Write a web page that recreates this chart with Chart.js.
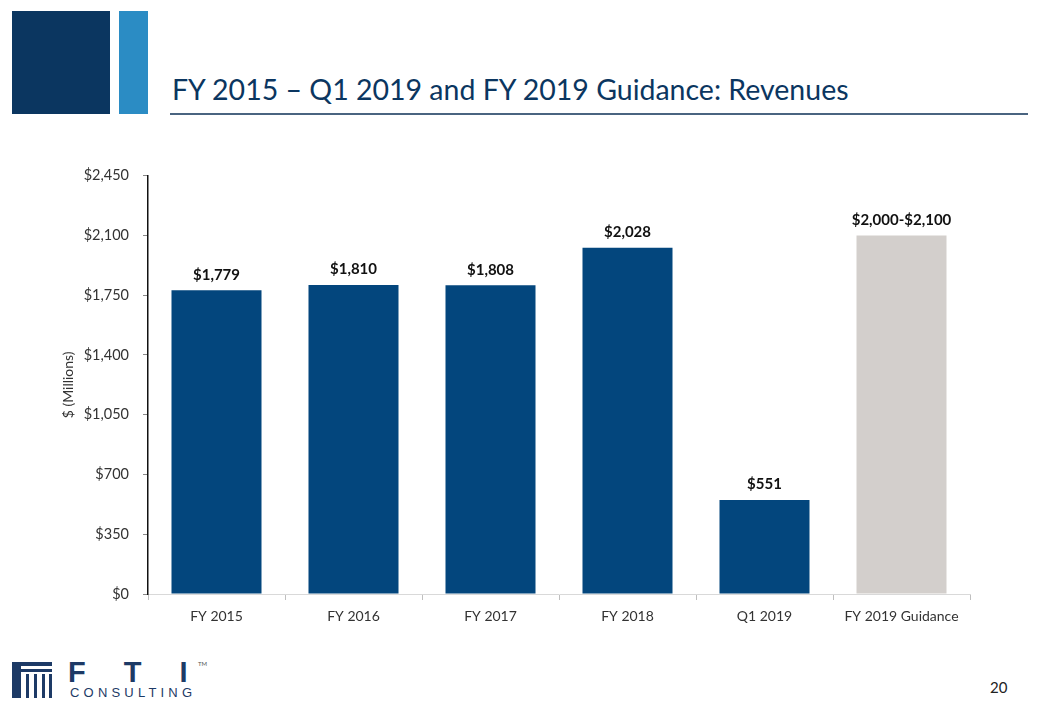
<!DOCTYPE html>
<html>
<head>
<meta charset="utf-8">
<script src="https://cdn.jsdelivr.net/npm/chart.js@4/dist/chart.umd.min.js"></script>
<style>
  body { margin: 0; width: 1040px; height: 720px; background: #fff; position: relative; overflow: hidden; font-family: Lato, "Liberation Sans", sans-serif; }
  .sq1 { position: absolute; left: 12px; top: 11px; width: 98px; height: 103px; background: #0b3660; }
  .sq2 { position: absolute; left: 119px; top: 11px; width: 29px; height: 103px; background: #2b8cc4; }
  .title { position: absolute; left: 172px; top: 72px; font-size: 28.5px; color: #0b3660; white-space: nowrap; }
  .rule { position: absolute; left: 170px; top: 113px; width: 858px; height: 2px; background: #4a6480; }
  #wrap { position: absolute; left: 50px; top: 153px; width: 940px; height: 487px; }
  .page { position: absolute; left: 990px; top: 678px; font-size: 15px; color: #222; }
  .logo .bar { position: absolute; background: #1d3a66; }
  .fti { position: absolute; left: 68px; top: 656px; font-size: 29px; font-weight: 900; color: #1d3a66; letter-spacing: 38px; font-family: "Liberation Sans", sans-serif; }
  .cons { position: absolute; left: 70px; top: 685px; font-size: 13px; color: #1d3a66; letter-spacing: 4.2px; font-family: "Liberation Sans", sans-serif; }
  .tm { position: absolute; left: 198px; top: 660px; font-size: 6px; color: #555; }
</style>
</head>
<body>
<div class="sq1"></div>
<div class="sq2"></div>
<div class="title">FY 2015 – Q1 2019 and FY 2019 Guidance: Revenues</div>
<div class="rule"></div>
<div id="wrap"><canvas id="revChart"></canvas></div>
<div class="logo">
  <div class="bar" style="left:12px;top:662px;width:40px;height:4px"></div>
  <div class="bar" style="left:12px;top:669px;width:40px;height:3px"></div>
  <div class="bar" style="left:12px;top:662px;width:9px;height:36px"></div>
  <div class="bar" style="left:26px;top:674px;width:3px;height:24px"></div>
  <div class="bar" style="left:34px;top:674px;width:3px;height:24px"></div>
  <div class="bar" style="left:42px;top:674px;width:3px;height:24px"></div>
  <div class="bar" style="left:49px;top:674px;width:3px;height:24px"></div>
</div>
<div class="fti">FTI</div>
<div class="cons">CONSULTING</div>
<div class="tm">TM</div>
<div class="page">20</div>

<script>
const categories = ["FY 2015", "FY 2016", "FY 2017", "FY 2018", "Q1 2019", "FY 2019 Guidance"];
const revenues = [1779, 1810, 1808, 2028, 551, 2100];
const valueLabels = ["$1,779", "$1,810", "$1,808", "$2,028", "$551", "$2,000-$2,100"];
const barColors = ["#03467d", "#03467d", "#03467d", "#03467d", "#03467d", "#d3cfcc"];
const yMax = 2450;
const yStep = 350;

const font = "Lato, 'Liberation Sans', sans-serif";

// draws the value above each bar
const barLabels = {
    id: "barLabels",
    afterDatasetsDraw(chart) {
        const ctx = chart.ctx;
        const meta = chart.getDatasetMeta(0);
        ctx.save();
        ctx.font = "bold 15px " + font;
        ctx.fillStyle = "#111";
        ctx.textAlign = "center";
        ctx.textBaseline = "bottom";
        meta.data.forEach((bar, i) => {
            ctx.fillText(valueLabels[i], bar.x, bar.y - 8);
        });
        ctx.restore();
    }
};

const ctx = document.getElementById("revChart").getContext("2d");
new Chart(ctx, {
    type: "bar",
    data: {
        labels: categories,
        datasets: [{
            data: revenues,
            backgroundColor: barColors,
            borderWidth: 0,
            barPercentage: 0.657,
            categoryPercentage: 1
        }]
    },
    options: {
        responsive: true,
        maintainAspectRatio: false,
        animation: false,
        layout: { padding: { top: 7, right: 20, left: 0, bottom: 0 } },
        plugins: {
            legend: { display: false },
            tooltip: { enabled: false }
        },
        scales: {
            x: {
                grid: { drawOnChartArea: false, drawTicks: true, tickLength: 6, color: "#bfbfbf" },
                border: { color: "#d9d9d9", width: 1 },
                ticks: { color: "#333", font: { family: font, size: 14 }, padding: 8 },
                afterFit(scale) { scale.height = 46; }
            },
            y: {
                min: 0,
                max: yMax,
                grid: { drawOnChartArea: false, drawTicks: true, tickLength: 5, color: "#888" },
                border: { color: "#111", width: 1.5 },
                ticks: {
                    stepSize: yStep,
                    color: "#333",
                    font: { family: font, size: 14.5 },
                    padding: 14,
                    callback: v => "$" + v.toLocaleString("en-US")
                },
                title: {
                    display: true,
                    text: "$ (Millions)",
                    color: "#333",
                    font: { family: font, size: 14 },
                    padding: { top: 10, bottom: 0 }
                },
                afterFit(scale) { scale.width = 98; }
            }
        }
    },
    plugins: [barLabels]
});
</script>
</body>
</html>
